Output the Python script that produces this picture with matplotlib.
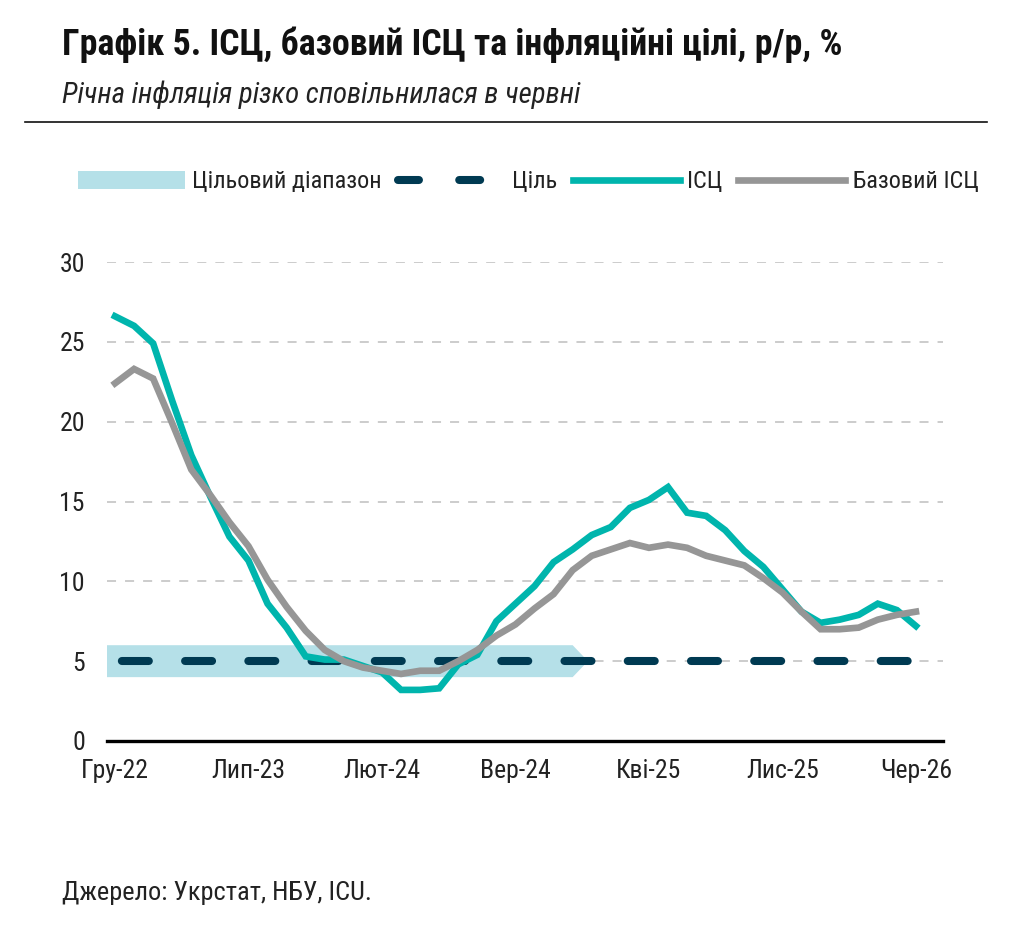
import matplotlib
matplotlib.use("Agg")
import matplotlib.pyplot as plt
from matplotlib import font_manager
from matplotlib.lines import Line2D
from matplotlib.patches import Patch

# font: condensed face if available
names = {f.name for f in font_manager.fontManager.ttflist}
narrow = next((n for n in ["Liberation Sans Narrow", "Roboto Condensed", "Open Sans Condensed"] if n in names),
              "Liberation Sans")
plt.rcParams["font.family"] = [narrow, "DejaVu Sans"]

# data, monthly Dec-22 .. Jun-26
tick_labels = ["Гру-22", "Лип-23", "Лют-24", "Вер-24", "Кві-25", "Лис-25", "Чер-26"]
cpi = [26.6, 26.0, 24.9, 21.3, 17.9, 15.3, 12.8, 11.3, 8.6, 7.1, 5.3, 5.1,
       5.1, 4.7, 4.3, 3.2, 3.2, 3.3, 4.8, 5.4, 7.5, 8.6, 9.7, 11.2,
       12.0, 12.9, 13.4, 14.6, 15.1, 15.9, 14.3, 14.1, 13.2, 11.9, 10.9, 9.5,
       8.1, 7.4, 7.6, 7.9, 8.6, 8.2, 7.2]
core = [22.4, 23.3, 22.7, 19.9, 17.0, 15.4, 13.7, 12.2, 10.1, 8.4, 6.9, 5.7,
        5.0, 4.6, 4.4, 4.2, 4.4, 4.4, 5.0, 5.7, 6.6, 7.3, 8.3, 9.2,
        10.7, 11.6, 12.0, 12.4, 12.1, 12.3, 12.1, 11.6, 11.3, 11.0, 10.2, 9.3,
        8.1, 7.0, 7.0, 7.1, 7.6, 7.9, 8.1]
target = [5.0] * len(cpi)
band_low, band_high = 4.0, 6.0
band_end = 24          # target range shown until Гру-24
x = list(range(len(cpi)))

teal = "#00B5AD"
grey = "#969696"
navy = "#003A52"
band_col = "#B5E0E8"

fig = plt.figure(figsize=(10.12, 9.39), dpi=100)
ax = fig.add_axes([107 / 1012, 1 - 741 / 939, 836 / 1012, 479 / 939])

# target range band with arrow-shaped end
ax.fill([-0.42, band_end, band_end + 0.8, band_end, -0.42],
        [band_low, band_low, (band_low + band_high) / 2, band_high, band_high],
        color=band_col, lw=0, zorder=1)
ax.plot(x, target, color=navy, lw=5.8, linestyle=(7.0, (3.35, 4.5)), dash_capstyle="round", zorder=3)
ax.plot(x, cpi, color=teal, lw=4.8, solid_joinstyle="miter", zorder=4)
ax.plot(x, core, color=grey, lw=4.8, solid_joinstyle="miter", zorder=5)

ax.set_xlim(-0.42, 43.42)
ax.set_ylim(0, 30)
ax.set_yticks(range(0, 31, 5))
ax.yaxis.grid(True, color="#C8C8C8", lw=1.3, dashes=(5, 5))
ax.set_axisbelow(True)
ax.set_xticks(range(0, len(cpi), 7))
ax.set_xticklabels(tick_labels)
for s in ["top", "right", "left"]:
    ax.spines[s].set_visible(False)
ax.spines["bottom"].set_linewidth(2.4)
ax.spines["bottom"].set_zorder(6)
ax.tick_params(axis="both", length=0, labelsize=18.5, colors="#222222")
ax.tick_params(axis="y", pad=16)
ax.tick_params(axis="x", pad=13)

handles = [Patch(facecolor=band_col, edgecolor="none", label="Цільовий діапазон"),
           Line2D([], [], color=navy, lw=5.8, dashes=(2.6, 5.0), dash_capstyle="round", label="Ціль"),
           Line2D([], [], color=teal, lw=4.8, label="ІСЦ"),
           Line2D([], [], color=grey, lw=4.8, label="Базовий ІСЦ")]
fig.legend(handles=handles, loc="center", bbox_to_anchor=(0.522, 1 - 182 / 939), ncol=4,
           frameon=False, fontsize=17.5, handlelength=4.4, handletextpad=0.3,
           columnspacing=0.65, labelcolor="#222222")

fig.text(62 / 1012, 1 - 45 / 939, "Графік 5. ІСЦ, базовий ІСЦ та інфляційні цілі, р/р, %",
         fontsize=25.8, fontweight="bold", va="center", ha="left", color="#111111")
fig.text(62 / 1012, 1 - 95 / 939, "Річна інфляція різко сповільнилася в червні",
         fontsize=20.8, style="italic", va="center", ha="left", color="#222222")
fig.add_artist(Line2D([25 / 1012, 987 / 1012], [1 - 122 / 939, 1 - 122 / 939], color="#111111", lw=1.2))
fig.text(62 / 1012, 1 - 893 / 939, "Джерело: Укрстат, НБУ, ICU.",
         fontsize=19, va="center", ha="left", color="#222222")

fig.savefig("out.png", dpi=100)
